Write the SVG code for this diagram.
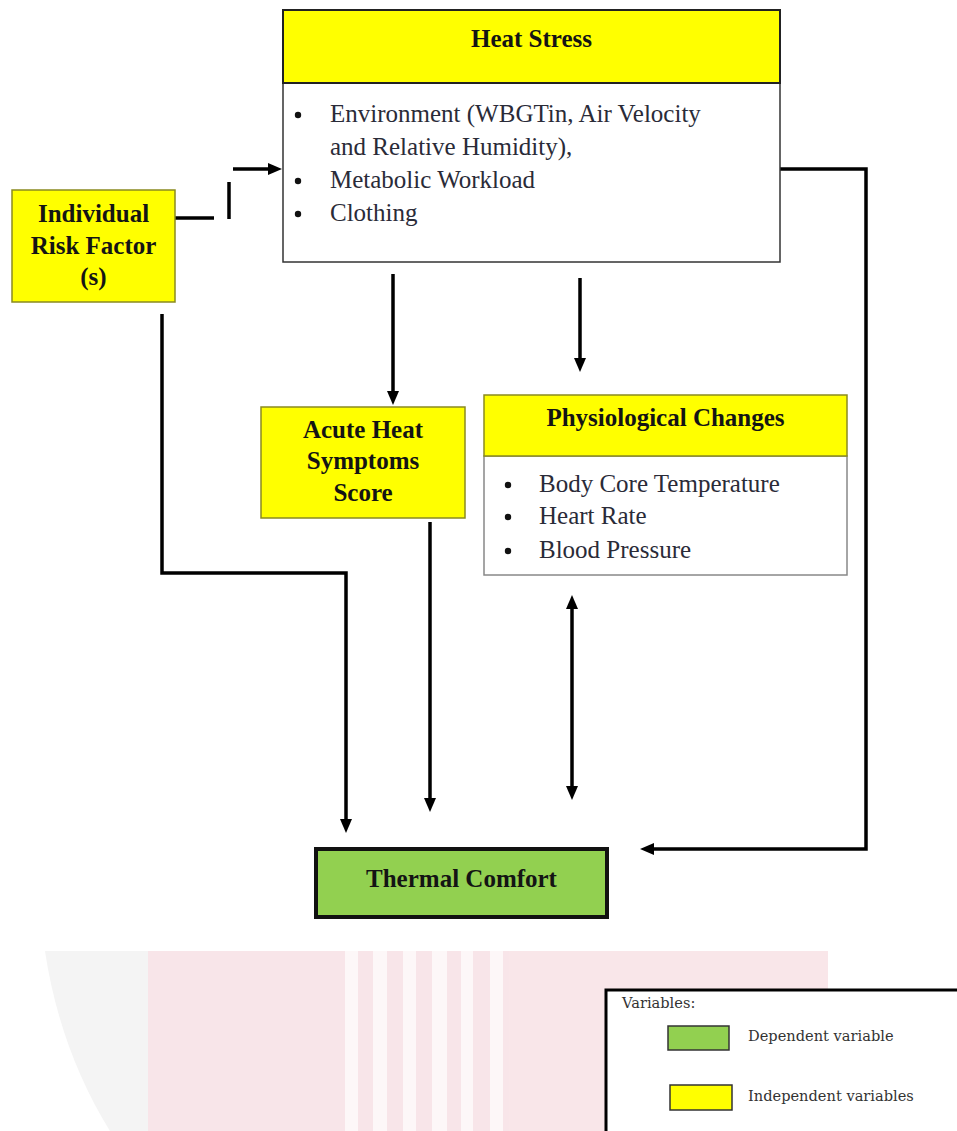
<svg xmlns="http://www.w3.org/2000/svg" width="957" height="1131" viewBox="0 0 957 1131">
<style>
.bold{font-family:"Liberation Serif","Times New Roman",serif;font-weight:bold;font-size:25px;fill:#141414;text-anchor:middle}
.body{font-family:"Liberation Serif","Times New Roman",serif;font-size:25px;fill:#2a2b38}
.leg{font-family:"DejaVu Serif",serif;font-size:14.6px;fill:#333}
.yel{fill:#ffff00;stroke:#8a8a20;stroke-width:1.5}
.wbox{fill:#fff;stroke:#333;stroke-width:1.5}
.conn{fill:none;stroke:#000;stroke-width:3.5}
.dot{fill:#111}
</style>
<defs>
<marker id="ah" viewBox="0 0 14 12" markerWidth="14" markerHeight="12" markerUnits="userSpaceOnUse" refX="4" refY="6" orient="auto-start-reverse">
<path d="M0,0 L14,6 L0,12 z" fill="#000"/>
</marker>
</defs>
<rect width="957" height="1131" fill="#fff"/>
<g id="watermark" opacity="0.9">
<path d="M45,951 H148 Q160,1060 230,1131 H110 Q60,1050 45,951 z" fill="#f3f3f3"/>
<rect x="148" y="951" width="680" height="180" fill="#f8e3e7"/>
<g fill="#fdf7f8">
<rect x="345" y="951" width="13" height="180"/>
<rect x="373" y="951" width="14" height="180"/>
<rect x="403" y="951" width="13" height="180"/>
<rect x="432" y="951" width="15" height="180"/>
<rect x="461" y="951" width="12" height="180"/>
<rect x="490" y="951" width="13" height="180"/>
</g>
</g>
<g id="connectors">
<path class="conn" d="M175,218 H214"/>
<path class="conn" d="M229,182 V219"/>
<path class="conn" d="M233,169 H272" marker-end="url(#ah)"/>
<path class="conn" d="M162,314 V573 H346 V823" marker-end="url(#ah)"/>
<path class="conn" d="M393,274 V395" marker-end="url(#ah)"/>
<path class="conn" d="M580,278 V362" marker-end="url(#ah)"/>
<path class="conn" d="M430,522 V802" marker-end="url(#ah)"/>
<path class="conn" d="M572,605 V790" marker-start="url(#ah)" marker-end="url(#ah)"/>
<path class="conn" d="M780,169 H866 V849 H650" marker-end="url(#ah)"/>
</g>
<g id="heat-stress">
<rect class="wbox" x="283" y="83" width="497" height="179"/>
<rect x="283" y="10" width="497" height="73" fill="#ffff00" stroke="#222" stroke-width="2"/>
<text class="bold" x="531.5" y="47">Heat Stress</text>
<circle class="dot" cx="298" cy="115" r="3.2"/>
<text class="body" x="330" y="122">Environment (WBGTin, Air Velocity</text>
<text class="body" x="330" y="155">and Relative Humidity),</text>
<circle class="dot" cx="298" cy="181" r="3.2"/>
<text class="body" x="330" y="188">Metabolic Workload</text>
<circle class="dot" cx="298" cy="214" r="3.2"/>
<text class="body" x="330" y="221">Clothing</text>
</g>
<g id="individual-risk">
<rect class="yel" x="12" y="190" width="163" height="112"/>
<text class="bold" x="93.5" y="222">Individual</text>
<text class="bold" x="93.5" y="254">Risk Factor</text>
<text class="bold" x="93.5" y="285">(s)</text>
</g>
<g id="acute-heat">
<rect class="yel" x="261" y="407" width="204" height="111"/>
<text class="bold" x="363" y="438">Acute Heat</text>
<text class="bold" x="363" y="469">Symptoms</text>
<text class="bold" x="363" y="501">Score</text>
</g>
<g id="physiological">
<rect x="484" y="456" width="363" height="119" fill="#fff" stroke="#888" stroke-width="1.5"/>
<rect class="yel" x="484" y="395" width="363" height="61"/>
<text class="bold" x="665.5" y="426">Physiological Changes</text>
<circle class="dot" cx="508" cy="485" r="3.2"/>
<text class="body" x="539" y="492">Body Core Temperature</text>
<circle class="dot" cx="508" cy="517" r="3.2"/>
<text class="body" x="539" y="524">Heart Rate</text>
<circle class="dot" cx="508" cy="551" r="3.2"/>
<text class="body" x="539" y="558">Blood Pressure</text>
</g>
<g id="thermal-comfort">
<rect x="316" y="849" width="291" height="68" fill="#92d050" stroke="#111" stroke-width="4"/>
<text class="bold" x="461.5" y="887" font-size="29">Thermal Comfort</text>
</g>
<g id="legend">
<rect x="606" y="990" width="400" height="200" fill="#fff" stroke="#000" stroke-width="3"/>
<text class="leg" x="622" y="1008">Variables:</text>
<rect x="668" y="1026" width="61" height="24" fill="#92d050" stroke="#333" stroke-width="1.5"/>
<text class="leg" x="748" y="1041">Dependent variable</text>
<rect x="670" y="1085" width="62" height="25" fill="#ffff00" stroke="#333" stroke-width="1.5"/>
<text class="leg" x="748" y="1101">Independent variables</text>
</g>
</svg>
